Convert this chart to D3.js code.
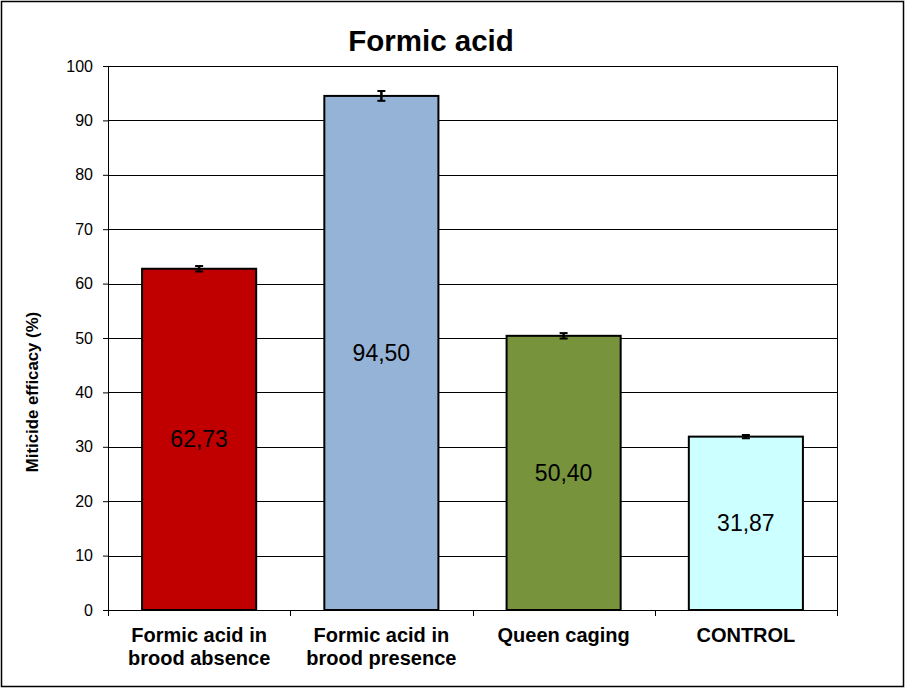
<!DOCTYPE html>
<html>
<head>
<meta charset="utf-8">
<script src="https://cdn.jsdelivr.net/npm/d3@7"></script>
<style>
  body { margin: 0; background: #fff; }
  text { font-family: "Liberation Sans", Arial, sans-serif; }
</style>
</head>
<body>
<div class="chart"></div>
<script>
"use strict";

// Data
let categories = [["Formic acid in", "brood absence"], ["Formic acid in", "brood presence"], ["Queen caging"], ["CONTROL"]];
let values = [62.73, 94.50, 50.40, 31.87];
let errors = [0.5, 0.9, 0.5, 0.3];
let colors = ["#c00000", "#95b3d7", "#77933c", "#ccffff"];
let y_ticks = [0, 10, 20, 30, 40, 50, 60, 70, 80, 90, 100];

// Layout
let W = 907, H = 689;
let margin = {top: 66, right: 70, bottom: 79, left: 108};
let width = W - margin.left - margin.right;
let height = H - margin.top - margin.bottom;

let svg = d3.select(".chart").append("svg")
    .attr("width", W).attr("height", H);

// outer frame
svg.append("rect")
    .attr("x", 1.5).attr("y", 1.5)
    .attr("width", W - 5).attr("height", H - 4)
    .attr("fill", "#fff").attr("stroke", "#000").attr("stroke-width", 1.5);

svg.append("text")
    .attr("x", 431).attr("y", 51)
    .attr("text-anchor", "middle")
    .style("font-size", "29.5px").style("font-weight", "bold")
    .text("Formic acid");

let g = svg.append("g")
    .attr("transform", "translate(" + margin.left + "," + margin.top + ")");

let x_scale = d3.scaleBand()
    .domain(d3.range(values.length))
    .range([0, width])
    .paddingInner(0.374).paddingOuter(0.187);

let y_scale = d3.scaleLinear()
    .domain([0, 100])
    .range([height, 0]);

// gridlines
g.selectAll(".grid").data(y_ticks.slice(1)).enter()
    .append("line")
    .attr("x1", 0).attr("x2", width)
    .attr("y1", d => Math.round(y_scale(d)) + 0.5)
    .attr("y2", d => Math.round(y_scale(d)) + 0.5)
    .attr("stroke", "#000").attr("stroke-width", 1);

// right border of plot
g.append("line")
    .attr("x1", width + 0.5).attr("x2", width + 0.5)
    .attr("y1", 0).attr("y2", height + 6)
    .attr("stroke", "#000");

// y axis
let y_axis = g.append("g")
    .call(d3.axisLeft(y_scale).tickValues(y_ticks).tickSize(5).tickPadding(10));
y_axis.select(".domain").attr("stroke", "#000");
y_axis.selectAll("text").style("font-size", "16px").attr("fill", "#000");

// x axis (ticks between categories)
let step = x_scale.step();
g.append("line")
    .attr("x1", 0).attr("x2", width)
    .attr("y1", height + 0.5).attr("y2", height + 0.5)
    .attr("stroke", "#000");
g.selectAll(".xtick").data(d3.range(values.length + 1)).enter()
    .append("line")
    .attr("x1", d => Math.round(d * step) + 0.5)
    .attr("x2", d => Math.round(d * step) + 0.5)
    .attr("y1", height).attr("y2", height + 6)
    .attr("stroke", "#000");

// bars
g.selectAll(".bar").data(values).enter()
    .append("rect")
    .attr("x", (d, i) => x_scale(i))
    .attr("y", d => y_scale(d))
    .attr("width", x_scale.bandwidth())
    .attr("height", d => height - y_scale(d))
    .attr("fill", (d, i) => colors[i])
    .attr("stroke", "#000").attr("stroke-width", 2);

// error bars
let eb = g.selectAll(".err").data(values).enter().append("g");
eb.append("line")
    .attr("x1", (d, i) => x_scale(i) + x_scale.bandwidth() / 2)
    .attr("x2", (d, i) => x_scale(i) + x_scale.bandwidth() / 2)
    .attr("y1", (d, i) => y_scale(d + errors[i]))
    .attr("y2", (d, i) => y_scale(d - errors[i]))
    .attr("stroke", "#000").attr("stroke-width", 2.5);
[1, -1].forEach(function (s) {
    eb.append("line")
        .attr("x1", (d, i) => x_scale(i) + x_scale.bandwidth() / 2 - 4)
        .attr("x2", (d, i) => x_scale(i) + x_scale.bandwidth() / 2 + 4)
        .attr("y1", (d, i) => y_scale(d + s * errors[i]))
        .attr("y2", (d, i) => y_scale(d + s * errors[i]))
        .attr("stroke", "#000").attr("stroke-width", 2);
});

// value labels
g.selectAll(".val").data(values).enter()
    .append("text")
    .attr("x", (d, i) => x_scale(i) + x_scale.bandwidth() / 2)
    .attr("y", d => y_scale(d / 2))
    .attr("dy", "0.35em")
    .attr("text-anchor", "middle")
    .style("font-size", "23px")
    .text(d => d.toFixed(2).replace(".", ","));

// category labels
let cat = g.selectAll(".cat").data(categories).enter()
    .append("text")
    .attr("text-anchor", "middle")
    .attr("transform", (d, i) => "translate(" + (x_scale(i) + x_scale.bandwidth() / 2) + "," + (height + 32) + ")")
    .style("font-size", "20px").style("font-weight", "bold");
cat.selectAll("tspan").data(d => d).enter()
    .append("tspan")
    .attr("x", 0)
    .attr("dy", (d, i) => i === 0 ? 0 : 23)
    .text(d => d);

// y label
svg.append("text")
    .attr("transform", "translate(38,392) rotate(-90)")
    .attr("text-anchor", "middle")
    .style("font-size", "16.8px").style("font-weight", "bold")
    .text("Miticide efficacy (%)");
</script>
</body>
</html>
